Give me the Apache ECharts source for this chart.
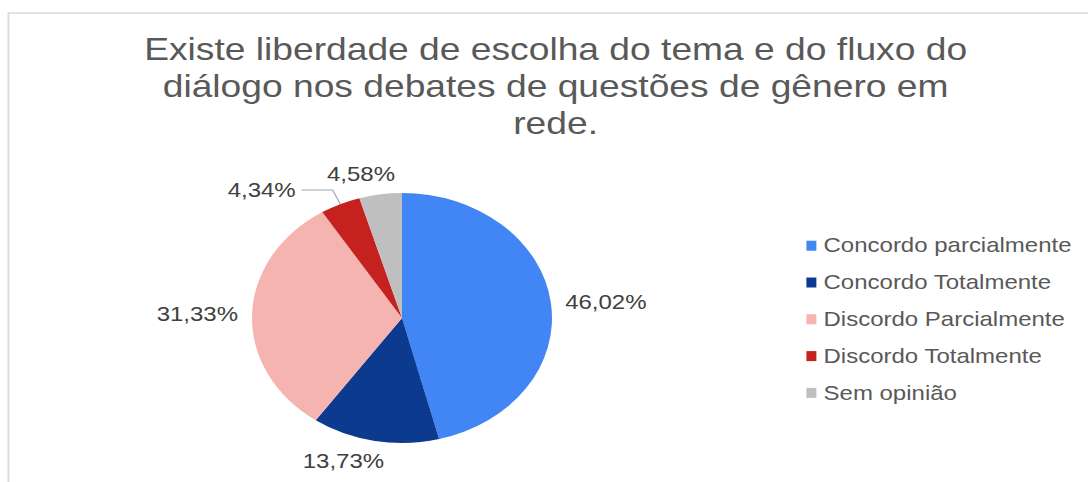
<!DOCTYPE html>
<html>
<head>
<meta charset="utf-8">
<script src="https://cdn.jsdelivr.net/npm/echarts@6/dist/echarts.min.js"></script>
<style>
  html, body { margin: 0; padding: 0; background: #fff; overflow: hidden; }
  #wrap { width: 1088px; height: 482px; overflow: hidden; position: relative; }
  #chart { width: 907px; height: 482px; transform: scaleX(1.2); transform-origin: 0 0; }
</style>
</head>
<body>
<div id="wrap"><div id="chart"></div></div>
<script>
// ---- data ----
const titleText = 'Existe liberdade de escolha do tema e do fluxo do\ndiálogo nos debates de questões de gênero em\nrede.';
const categories = ['Concordo parcialmente', 'Concordo Totalmente', 'Discordo Parcialmente', 'Discordo Totalmente', 'Sem opinião'];
const values = [46.02, 13.73, 31.33, 4.34, 4.58];

// ---- styles (kept apart from data) ----
const colors = ['#4285F4', '#0B3A8F', '#F5B4AF', '#C5221F', '#BFBFBF'];
const labelLineLength = [5, 20.3, 4, 15.5, 20.7];
const labelLineLength2 = [2, -16.3, 2.7, 25.8, -20.1];
const labelLineShown = [false, false, false, true, false];

const FONT = '"Liberation Sans", Arial, sans-serif';

const chart = echarts.init(document.getElementById('chart'), null, { renderer: 'svg' });

const pieData = categories.map((name, i) => ({
  name: name,
  value: values[i],
  itemStyle: { color: colors[i] },
  labelLine: {
    show: labelLineShown[i],
    length: labelLineLength[i],
    length2: labelLineLength2[i]
  }
}));

chart.setOption({
  animation: false,
  backgroundColor: '#ffffff',
  graphic: [{
    type: 'rect',
    shape: { x: 7, y: 13, width: 2000, height: 2000 },
    style: { fill: 'none', stroke: '#d9d9d9', lineWidth: 1.5 },
    silent: true,
    z: -10
  }],
  title: {
    text: titleText,
    left: 463,
    top: 31,
    padding: 0,
    textAlign: 'center',
    textStyle: {
      fontFamily: FONT,
      fontSize: 31,
      fontWeight: 'normal',
      color: '#595959',
      lineHeight: 37
    }
  },
  legend: {
    orient: 'vertical',
    left: 672,
    top: 234.7,
    padding: 0,
    itemGap: 14.8,
    itemWidth: 8.3,
    itemHeight: 10,
    icon: 'rect',
    data: categories,
    textStyle: {
      fontFamily: FONT,
      fontSize: 20,
      color: '#595959',
      lineHeight: 22,
      padding: [0, 0, 0, 1]
    }
  },
  series: [{
    type: 'pie',
    center: [335, 318],
    radius: 125,
    startAngle: 90,
    clockwise: true,
    avoidLabelOverlap: false,
    data: pieData,
    label: {
      show: true,
      position: 'outside',
      fontFamily: FONT,
      fontSize: 20,
      color: '#404040',
      distanceToLabelLine: 5,
      formatter: p => p.value.toFixed(2).replace('.', ',') + '%'
    },
    labelLine: {
      lineStyle: { color: '#a6a6a6', width: 1 }
    },
    emphasis: { disabled: true }
  }]
});
</script>
</body>
</html>
